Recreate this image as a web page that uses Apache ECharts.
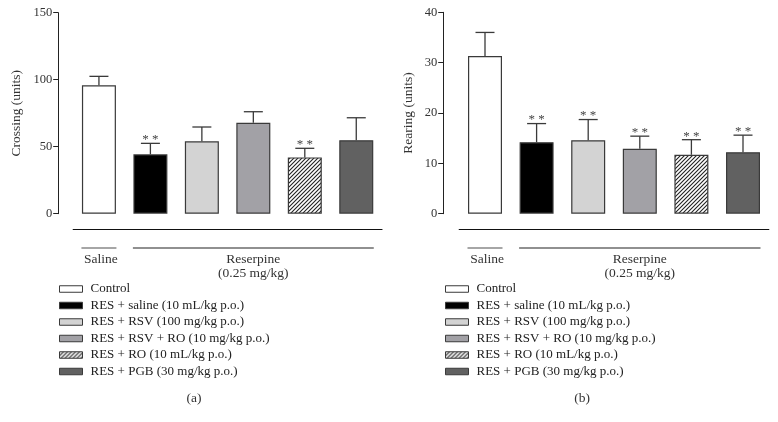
<!DOCTYPE html>
<html><head><meta charset="utf-8">
<script src="https://cdn.jsdelivr.net/npm/echarts@6/dist/echarts.min.js"></script>
<style>html,body{margin:0;padding:0;background:#fff}#c{width:778px;height:422px}</style>
</head><body><div id="c"></div>
<script>
const groups = ['Control', 'RES + saline (10 mL/kg p.o.)', 'RES + RSV (100 mg/kg p.o.)', 'RES + RSV + RO (10 mg/kg p.o.)', 'RES + RO (10 mL/kg p.o.)', 'RES + PGB (30 mg/kg p.o.)'];
const crossingMean = [95.8, 44.3, 54.0, 67.9, 42.0, 54.8];
const crossingErr = [6.7, 8.2, 10.7, 8.2, 6.8, 16.8];
const crossingSig = ['', '**', '', '', '**', ''];
const rearingMean = [31.3, 14.2, 14.6, 12.9, 11.7, 12.2];
const rearingErr = [4.7, 3.7, 4.1, 2.5, 3.0, 3.4];
const rearingSig = ['', '**', '**', '**', '**', '**'];
const crossingTicks = [0, 50, 100, 150];
const rearingTicks = [0, 10, 20, 30, 40];

const FONT = '"Liberation Serif", "DejaVu Serif", serif';
const BORDER = '#3a3a3a';

function hatch() {
  const c = document.createElement('canvas');
  c.width = 4; c.height = 4;
  const g = c.getContext('2d');
  g.fillStyle = '#fff'; g.fillRect(0, 0, 4, 4);
  g.strokeStyle = '#222'; g.lineWidth = 1.1;
  g.beginPath();
  g.moveTo(-1, 5); g.lineTo(5, -1);
  g.moveTo(-1, 1); g.lineTo(1, -1);
  g.moveTo(3, 5); g.lineTo(5, 3);
  g.stroke();
  return c;
}
const fills = ['#ffffff', '#000000', '#d3d3d3', '#a2a1a6', {image: hatch(), repeat: 'repeat'}, '#616161'];

const chart = echarts.init(document.getElementById('c'), null, {renderer: 'canvas'});

function errSeries(idx, mean, err, sig) {
  return {
    type: 'custom', xAxisIndex: idx, yAxisIndex: idx, z: 5,
    data: mean.map((m, i) => [i, m, m + err[i]]),
    renderItem: function (params, api) {
      const p0 = api.coord([api.value(0), api.value(1)]);
      const p1 = api.coord([api.value(0), api.value(2)]);
      const hw = 9.5;
      const children = [
        {type: 'line', shape: {x1: p0[0], y1: p0[1], x2: p1[0], y2: p1[1]}, style: {stroke: BORDER, lineWidth: 1.3}},
        {type: 'line', shape: {x1: p1[0] - hw, y1: p1[1], x2: p1[0] + hw, y2: p1[1]}, style: {stroke: BORDER, lineWidth: 1.3}}
      ];
      const s = sig[params.dataIndex];
      if (s) children.push({type: 'text', style: {text: s.split('').join(' '), x: p1[0], y: p1[1] + 3, align: 'center', verticalAlign: 'bottom', font: '13px ' + FONT, fill: '#444'}});
      return {type: 'group', children: children};
    }
  };
}

function barSeries(idx, vals) {
  return groups.map((g, k) => ({
    type: 'bar', name: g, xAxisIndex: idx, yAxisIndex: idx,
    barWidth: 34, barGap: '-100%',
    itemStyle: {color: fills[k], borderColor: BORDER, borderWidth: 1.2},
    data: vals.map((v, i) => i === k ? v : '-'),
    animation: false
  }));
}

function yAxis(gi, maxV, step, name, gap, offset) {
  return {
    type: 'value', gridIndex: gi, min: 0, max: maxV, interval: step, offset: offset,
    name: name, nameLocation: 'middle', nameGap: gap,
    nameTextStyle: {fontFamily: FONT, fontSize: 13.5, color: '#333'},
    axisLine: {show: true, lineStyle: {color: '#222', width: 1}},
    axisTick: {show: true, length: 5, lineStyle: {color: '#222'}},
    axisLabel: {fontFamily: FONT, fontSize: 12.5, color: '#333', margin: 6},
    splitLine: {show: false}
  };
}
function xAxis(gi) {
  return {
    type: 'category', gridIndex: gi, data: groups, offset: 15.5,
    axisLine: {show: true, onZero: false, lineStyle: {color: '#111', width: 1.2}},
    axisTick: {show: false}, axisLabel: {show: false}
  };
}
function legend(left) {
  return {
    orient: 'vertical', left: left, top: 277.5, itemWidth: 23, itemHeight: 6.5, itemGap: 3.5,
    selectedMode: false, data: groups, icon: 'rect',
    itemStyle: {borderWidth: 1},
    textStyle: {fontFamily: FONT, fontSize: 13, color: '#222', lineHeight: 13, padding: [0, 0, 0, 3]}
  };
}

const option = {
  animation: false,
  grid: [
    {left: 73.2, right: 396, top: 12.7, bottom: 208.3},
    {left: 459.2, right: 9.2, top: 12.3, bottom: 208.3}
  ],
  xAxis: [xAxis(0), xAxis(1)],
  yAxis: [
    yAxis(0, 150, 50, 'Crossing (units)', 35, 15),
    yAxis(1, 40, 10, 'Rearing (units)', 28, 16)
  ],
  legend: [legend(54), legend(440)],
  series: [].concat(barSeries(0, crossingMean), barSeries(1, rearingMean),
    [errSeries(0, crossingMean, crossingErr, crossingSig), errSeries(1, rearingMean, rearingErr, rearingSig)])
};
chart.setOption(option);

function annotate() {
  const els = [];
  [0, 1].forEach(gi => {
    const px = i => chart.convertToPixel({gridIndex: gi}, [i, 0])[0];
    const hw = 17.5;
    const y = 248;
    const sal = [px(0) - hw, px(0) + hw];
    const res = [px(1) - hw, px(5) + hw];
    els.push({type: 'line', shape: {x1: sal[0], y1: y, x2: sal[1], y2: y}, style: {stroke: '#888', lineWidth: 1.3}});
    els.push({type: 'line', shape: {x1: res[0], y1: y, x2: res[1], y2: y}, style: {stroke: '#222', lineWidth: 1.2}});
    els.push({type: 'text', x: (sal[0] + sal[1]) / 2 + 2, y: 252, style: {text: 'Saline', align: 'center', verticalAlign: 'top', font: '13.5px ' + FONT, fill: '#333'}});
    els.push({type: 'text', x: (res[0] + res[1]) / 2, y: 252, style: {text: 'Reserpine\n(0.25 mg/kg)', align: 'center', verticalAlign: 'top', lineHeight: 14.5, font: '13.5px ' + FONT, fill: '#333'}});
    els.push({type: 'text', x: gi === 0 ? 194 : 582, y: 391, style: {text: gi === 0 ? '(a)' : '(b)', align: 'center', verticalAlign: 'top', font: '13.5px ' + FONT, fill: '#333'}});
  });
  chart.setOption({graphic: {elements: els}});
}
annotate();
</script>
</body></html>
